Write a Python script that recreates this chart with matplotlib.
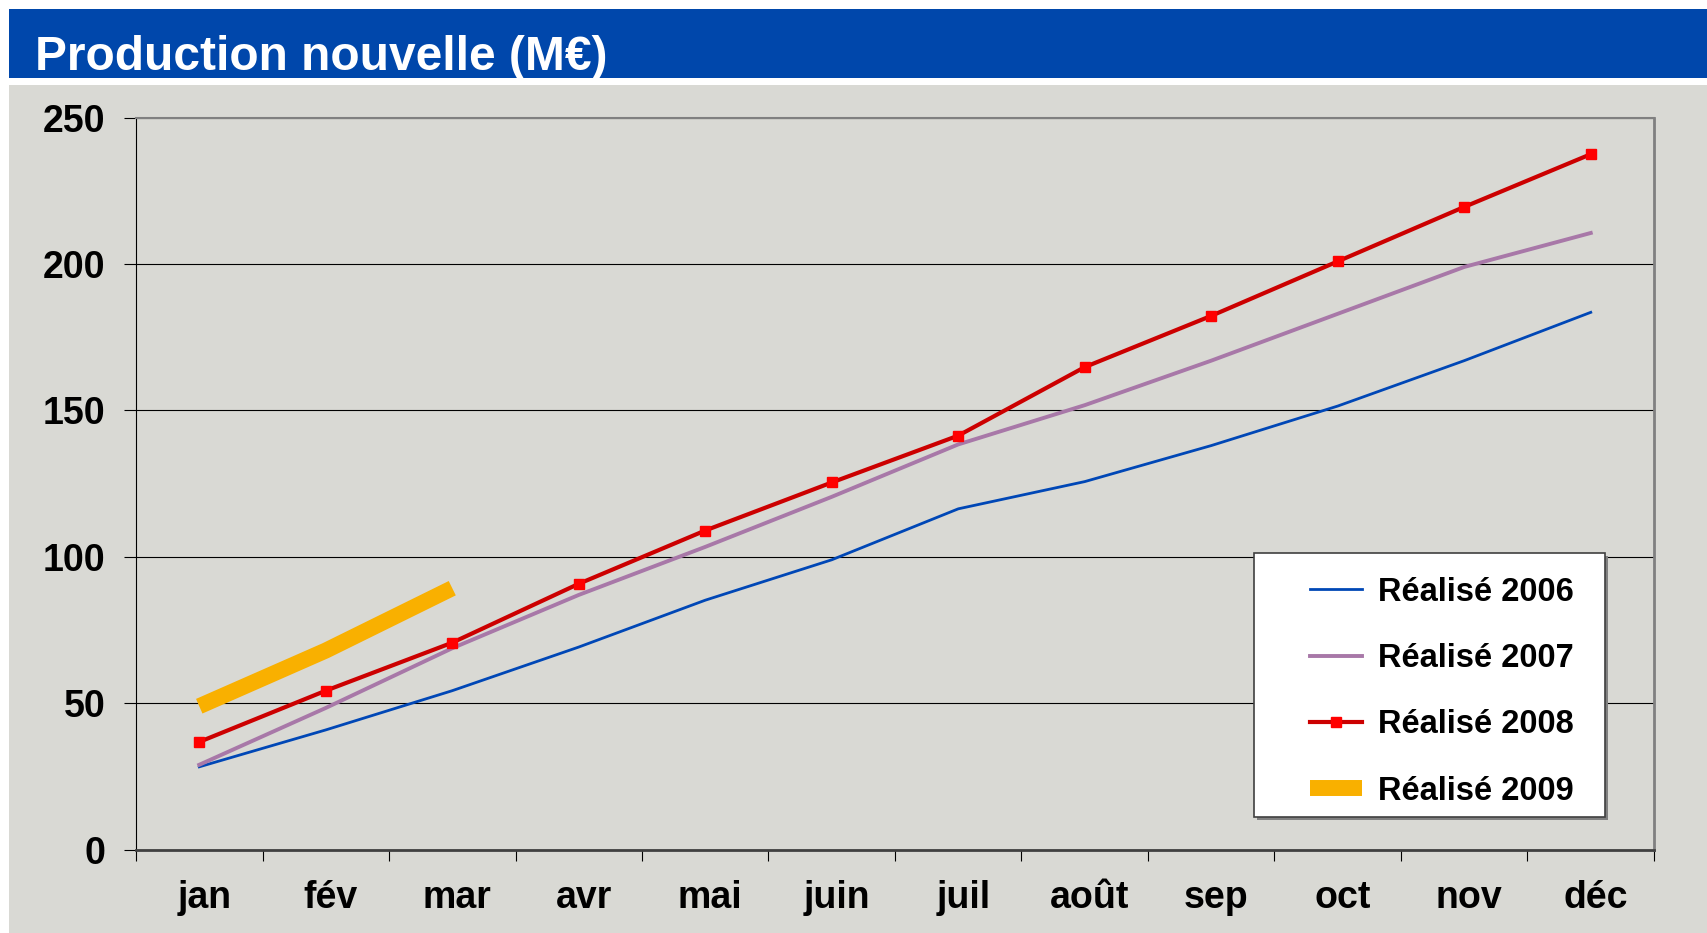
import matplotlib
matplotlib.use("Agg")
import matplotlib.pyplot as plt
from matplotlib.patches import Rectangle
from matplotlib.transforms import ScaledTranslation

months = ["jan", "fév", "mar", "avr", "mai", "juin", "juil", "août", "sep", "oct", "nov", "déc"]
r2006 = [28.3, 40.9, 54.3, 69.2, 85.2, 99.0, 116.4, 125.7, 138.0, 151.5, 167.0, 183.5]
r2007 = [29.0, 48.4, 68.8, 87.0, 103.4, 120.5, 138.4, 151.8, 167.0, 183.0, 199.0, 210.6]
r2008 = [36.8, 54.3, 70.7, 90.8, 109.0, 125.4, 141.4, 164.8, 182.3, 200.9, 219.5, 237.5]
r2009 = [49.0, 68.0, 89.3]
labels = ["Réalisé 2006", "Réalisé 2007", "Réalisé 2008", "Réalisé 2009"]
yticks = [0, 50, 100, 150, 200, 250]

W, H = 1708, 933
fig = plt.figure(figsize=(W / 100, H / 100), dpi=100)
fig.patch.set_facecolor("white")
FONT = ["Liberation Sans", "DejaVu Sans"]

def frac_rect(x0, y0, x1, y1, **kw):
    return Rectangle((x0 / W, 1 - y1 / H), (x1 - x0) / W, (y1 - y0) / H,
                     transform=fig.transFigure, **kw)

gray = "#D9D9D4"
fig.patches.append(frac_rect(9, 9, W, 78, facecolor="#0047AB", edgecolor="none", zorder=-2))
fig.patches.append(frac_rect(9, 85, W, H, facecolor=gray, edgecolor="none", zorder=-2))
fig.text(35 / W, 1 - 70 / H, "Production nouvelle (M€)", color="white", fontsize=34.5,
         fontweight="bold", family=FONT, ha="left", va="baseline", zorder=5)

L, R, T, B = 136, 1654, 117.6, 849.7
ax = fig.add_axes([L / W, 1 - B / H, (R - L) / W, (B - T) / H])
ax.set_facecolor(gray)
x = list(range(len(months)))

ax.plot(x, r2006, color="#0047B6", lw=2.0, label=labels[0], zorder=3)
ax.plot(x, r2007, color="#A878A8", lw=2.8, label=labels[1], zorder=3)
ax.plot(x, r2008, color="#CC0000", lw=3.0, marker="s", markersize=6.5,
        markerfacecolor="#FF0000", markeredgecolor="#FF0000", label=labels[2], zorder=4)
ax.plot(x[:len(r2009)], r2009, color="#F9B000", lw=11.5, solid_capstyle="butt",
        label=labels[3], zorder=5)

ax.set_xlim(-0.5, 11.5)
ax.set_ylim(0, 250)
ax.set_yticks(yticks)
ax.set_yticklabels([str(v) for v in yticks])
ax.set_xticks(x)
ax.set_xticklabels(months)
ax.set_xticks([i - 0.5 for i in range(13)], minor=True)
ax.tick_params(axis="x", which="major", length=0, pad=22, labelsize=27)
ax.tick_params(axis="x", which="minor", length=8, width=0.8, color="black", direction="out")
ax.tick_params(axis="y", length=9, width=0.8, color="black", direction="out", pad=13, labelsize=27)
shift = ScaledTranslation(5 / 100, 0, fig.dpi_scale_trans)
for lab in ax.get_xticklabels():
    lab.set_transform(lab.get_transform() + shift)
for lab in ax.get_xticklabels() + ax.get_yticklabels():
    lab.set_fontweight("bold")
    lab.set_family(FONT)
ax.grid(axis="y", color="black", lw=0.8)
ax.set_axisbelow(True)
ax.spines["left"].set_color("black")
ax.spines["left"].set_linewidth(0.8)
ax.spines["bottom"].set_color("#404040")
ax.spines["bottom"].set_linewidth(2)
ax.spines["right"].set_color("#808080")
ax.spines["right"].set_linewidth(2)
ax.spines["top"].set_color("#808080")
ax.spines["top"].set_linewidth(1.5)

# legend frame with shadow
for rect in (frac_rect(1257, 556, 1608, 820, facecolor="#808080", edgecolor="none", zorder=6),
             frac_rect(1254, 553, 1605, 817, facecolor="white", edgecolor="#404040",
                       linewidth=1.2, zorder=7)):
    rect.set_clip_on(False)
    ax.add_patch(rect)
leg = ax.legend(loc="upper left", bbox_to_anchor=(1300 / W, 1 - 567 / H),
                bbox_transform=fig.transFigure, frameon=False, prop={"family": FONT,
                "weight": "bold", "size": 23.5}, handlelength=1.6, handletextpad=0.5,
                labelspacing=1.08, borderpad=0.3, borderaxespad=0, numpoints=1)
leg.set_zorder(8)

fig.savefig("out.png", dpi=100, facecolor=fig.get_facecolor())
